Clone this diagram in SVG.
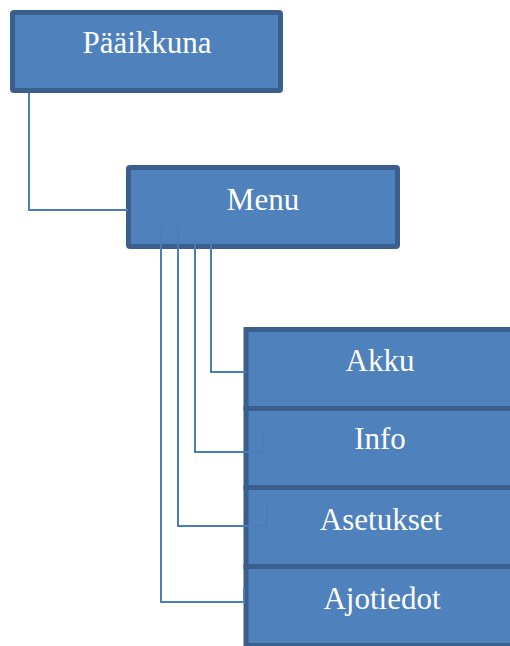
<svg xmlns="http://www.w3.org/2000/svg" width="510" height="646" viewBox="0 0 510 646">
  <style>
    .box { fill: #4F81BD; stroke: #3A5F8D; stroke-width: 5; }
    .label { font-family: "Liberation Serif", "Times New Roman", serif; font-size: 31px; fill: #FFFFFF; text-anchor: middle; }
    .link { fill: none; stroke: #4A7EBB; stroke-width: 2; }
  </style>
  <rect width="510" height="646" fill="#FFFFFF"/>

  <g id="paaikkuna">
    <rect class="box" x="12.5" y="12.5" width="268" height="78" rx="1.5"/>
    <text class="label" x="147" y="53">Pääikkuna</text>
  </g>

  <g id="menu">
    <rect class="box" x="128.5" y="167.5" width="269" height="79" rx="1.5"/>
    <text class="label" x="263" y="210">Menu</text>
  </g>

  <g id="akku">
    <rect class="box" x="246" y="329.5" width="272" height="79"/>
    <text class="label" x="380" y="371">Akku</text>
  </g>

  <g id="info">
    <rect class="box" x="246" y="408.5" width="272" height="79"/>
    <text class="label" x="380" y="449">Info</text>
  </g>

  <g id="asetukset">
    <rect class="box" x="246" y="487.5" width="272" height="79"/>
    <text class="label" x="381" y="530">Asetukset</text>
  </g>

  <g id="ajotiedot">
    <rect class="box" x="246" y="566.5" width="272" height="79"/>
    <text class="label" x="382" y="609">Ajotiedot</text>
  </g>

  <g id="connectors">
    <path class="link" d="M29,93 V210 H128"/>
    <path class="link" d="M211,235 V372 H246"/>
    <path class="link" d="M195,235 V452 H263 V432"/>
    <path class="link" d="M178,227 V526 H267 V506"/>
    <path class="link" d="M161,227 V602 H244 V588"/>
  </g>
</svg>
